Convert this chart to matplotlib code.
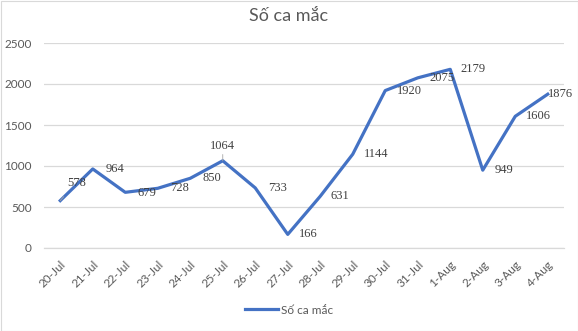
import matplotlib
matplotlib.use("Agg")
import matplotlib.pyplot as plt
from matplotlib.patches import Rectangle

dates = ["20-Jul", "21-Jul", "22-Jul", "23-Jul", "24-Jul", "25-Jul", "26-Jul", "27-Jul",
         "28-Jul", "29-Jul", "30-Jul", "31-Jul", "1-Aug", "2-Aug", "3-Aug", "4-Aug"]
cases = [578, 964, 679, 728, 850, 1064, 733, 166, 631, 1144, 1920, 2075, 2179, 949, 1606, 1876]
y_ticks = [0, 500, 1000, 1500, 2000, 2500]
series_name = "Số ca mắc"

# label offsets in pixels (dx, dy) relative to each point
label_offsets = [(16, 18), (22, 0), (22, -1), (22, 0), (22, 0), (0, 15), (22, 0), (21, 0),
                 (20, 0), (23, 0), (24, 0), (24, 0), (23, 0), (21, 0), (23, 0), (13, 0)]

blue = "#4472C4"
grey_text = "#595959"
grid_col = "#D9D9D9"
sans = ["Lato", "DejaVu Sans"]

fig = plt.figure(figsize=(5.78, 3.31), dpi=100)
W, H = 578, 331
ax = fig.add_axes([44 / W, (H - 248) / H, (564 - 44) / W, (248 - 43) / H])

x = list(range(len(dates)))
ax.plot(x, cases, color=blue, lw=2.3, solid_joinstyle="round", zorder=3)

ax.set_xlim(-0.5, len(dates) - 0.5)
ax.set_ylim(0, 2500)
ax.set_yticks(y_ticks)
ax.set_yticklabels([str(v) for v in y_ticks], family=sans, fontsize=8.5, color=grey_text)
ax.set_xticks(x)
ax.set_xticklabels(dates, family=sans, fontsize=8.5, color=grey_text,
                   rotation=45, ha="right", rotation_mode="anchor")
ax.tick_params(axis="both", length=0)
ax.tick_params(axis="y", pad=9)
ax.tick_params(axis="x", pad=8)
ax.grid(axis="y", color=grid_col, lw=0.9)
ax.set_axisbelow(True)
for s in ["left", "right", "top"]:
    ax.spines[s].set_visible(False)
ax.spines["bottom"].set_color(grid_col)
ax.spines["bottom"].set_linewidth(0.9)

for xi, val, (dx, dy) in zip(x, cases, label_offsets):
    lead = dict(arrowstyle="-", color="#A6A6A6", lw=0.6, shrinkA=5, shrinkB=0) \
        if abs(dy) > 10 else None
    ax.annotate(str(val), (xi, val), xytext=(dx, dy), textcoords="offset pixels",
                ha="center", va="center", family="Liberation Serif", fontsize=9,
                color="#404040", arrowprops=lead, zorder=4)

fig.text(0.5, (H - 16) / H, series_name, ha="center", va="center",
         family=sans, fontsize=13, color=grey_text)

leg = fig.legend([plt.Line2D([], [], color=blue, lw=2.3)], [series_name],
                 loc="center", bbox_to_anchor=(0.5, (H - 310) / H), frameon=False,
                 prop={"family": sans, "size": 8.5}, handlelength=2.8, handletextpad=0.3)
for t in leg.get_texts():
    t.set_color(grey_text)

fig.patches.append(Rectangle((0.5 / W, 0.5 / H), (W - 1) / W, (H - 1) / H,
                             transform=fig.transFigure, fill=False,
                             edgecolor=grid_col, lw=0.8))

fig.savefig("out.png", dpi=100)
